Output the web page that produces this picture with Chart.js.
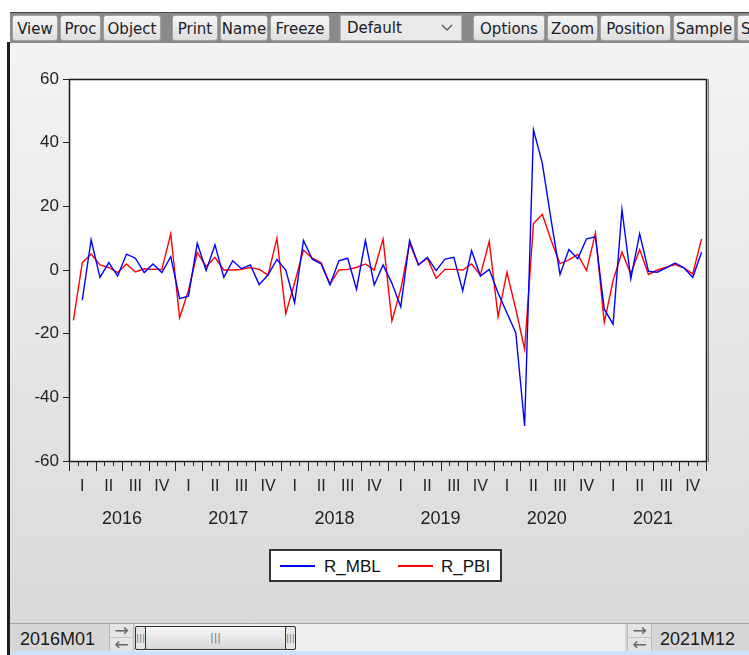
<!DOCTYPE html>
<html>
<head>
<meta charset="utf-8">
<title>R_MBL R_PBI</title>
<script src="https://cdn.jsdelivr.net/npm/chart.js@4.4.1/dist/chart.umd.min.js"></script>
<style>
    body { margin: 0; width: 749px; height: 655px; background: #fff; position: relative; overflow: hidden; font-family: "DejaVu Sans", sans-serif; }
    .abs { position: absolute; }
    #leftLine { left: 7px; top: 42px; width: 3px; height: 613px; background: #1e1e1e; }
    #toolbar { left: 10px; top: 12px; width: 739px; height: 30px; background: #8a8a8a; border-top: 1px solid #444; }
    .btn { position: absolute; top: 2px; height: 26px; line-height: 26px; text-align: center; font-size: 15px; color: #1c1c2a;
        background: linear-gradient(#f6f6f6, #dedede); border: 1px solid #a2a2a2; border-radius: 3px; box-sizing: border-box; white-space: nowrap; overflow: hidden; }
    #dropdown { position: absolute; top: 2px; left: 330px; width: 122px; height: 26px; box-sizing: border-box; background: #e9e9e9; border: 1px solid #b4b4b4;
        font-size: 15px; line-height: 24px; padding-left: 6px; color: #1c1c1c; }
    #dropdown svg { position: absolute; right: 8px; top: 8px; }
    #pane { left: 10px; top: 43px; width: 739px; height: 580px; background: linear-gradient(#f4f4f4, #d9d9d9); }
    #chart { position: absolute; left: 0; top: 0; }
    #legend { left: 269px; top: 549px; width: 233px; height: 33px; box-sizing: border-box; background: #fff; border: 2px solid #333;
        font: 17px "Liberation Sans", Arial, sans-serif; color: #111; }
    #legend .item { position: absolute; top: 6px; height: 20px; line-height: 20px; }
    #legend .swatch { position: absolute; top: 14px; width: 35px; height: 2px; }
    #bottom { left: 10px; top: 623px; width: 739px; height: 28px; background: #d6d6d6; border-top: 1px solid #a6a6a6;
        font: 18px "Liberation Sans", Arial, sans-serif; color: #1a1a1a; }
    #bottom .lbl { position: absolute; top: 3px; line-height: 24px; }
    .arrows { position: absolute; top: 0; width: 25px; height: 28px; background: #e4e4e4; border-left: 1px solid #bbb; border-right: 1px solid #bbb; box-sizing: border-box;
        font: 17px "DejaVu Sans", sans-serif; color: #666; text-align: center; line-height: 13px; }
    .arrows div { height: 13px; overflow: hidden; }
    .arrows div + div { border-top: 1px solid #c4c4c4; }
    #track { left: 125px; top: 0; width: 490px; height: 28px; background: #efefef; }
    #thumb { left: 0; top: 2px; width: 161px; height: 24px; box-sizing: border-box; background: linear-gradient(#f7f7f7, #d8d8d8); border: 1px solid #333; border-radius: 2px;
        font: 11px "DejaVu Sans", sans-serif; color: #777; text-align: center; line-height: 22px; }
    #thumb .cap { position: absolute; top: -1px; width: 11px; height: 24px; box-sizing: border-box; border: 1px solid #333; background: #e6e6e6; border-radius: 2px; font-size: 9px; line-height: 22px; }
    #blueLine { left: 10px; top: 651px; width: 739px; height: 4px; background: #cde2f6; }
</style>
</head>
<body>
<div id="leftLine" class="abs"></div>

<div id="toolbar" class="abs">
    <div class="btn" style="left:2px;width:46px">View</div>
    <div class="btn" style="left:50px;width:41px">Proc</div>
    <div class="btn" style="left:93px;width:58px">Object</div>
    <div class="btn" style="left:162px;width:46px">Print</div>
    <div class="btn" style="left:210px;width:48px">Name</div>
    <div class="btn" style="left:260px;width:60px">Freeze</div>
    <div id="dropdown">Default
        <svg width="12" height="8"><polyline points="1,1 6,6 11,1" fill="none" stroke="#555" stroke-width="1.3"/></svg>
    </div>
    <div class="btn" style="left:463px;width:72px">Options</div>
    <div class="btn" style="left:537px;width:51px">Zoom</div>
    <div class="btn" style="left:590px;width:71px">Position</div>
    <div class="btn" style="left:663px;width:62px">Sample</div>
    <div class="btn" style="left:727px;width:30px;text-align:left;padding-left:3px">Sheet</div>
</div>

<div id="pane" class="abs">
    <canvas id="chart" width="739" height="578"></canvas>
</div>

<div id="legend" class="abs">
    <div class="swatch" style="left:9px;background:#0000ff"></div>
    <div class="item" style="left:53px">R_MBL</div>
    <div class="swatch" style="left:127px;background:#ff0000"></div>
    <div class="item" style="left:170px">R_PBI</div>
</div>

<div id="bottom" class="abs">
    <div class="lbl" style="left:10px">2016M01</div>
    <div class="arrows" style="left:99px"><div>&#8594;</div><div>&#8592;</div></div>
    <div id="track" class="abs">
        <div id="thumb" class="abs">|||
            <div class="cap" style="left:-1px">|||</div>
            <div class="cap" style="right:-1px">|||</div>
        </div>
    </div>
    <div class="arrows" style="left:617px"><div>&#8594;</div><div>&#8592;</div></div>
    <div class="lbl" style="left:650px">2021M12</div>
</div>
<div id="blueLine" class="abs"></div>

<script>
    // sample 2016M01 - 2021M12
    var years = [2016, 2017, 2018, 2019, 2020, 2021];
    var quarterLabels = ["I", "II", "III", "IV"];
    var yTicks = [-60, -40, -20, 0, 20, 40, 60];

    var rMBL = [
        null, -9.5, 9.5, -2.3, 2.3, -1.9, 5.0, 3.7, -0.8, 1.9, -0.8, 4.2,
        -9.0, -8.2, 8.4, -0.2, 7.9, -2.3, 2.9, 0.4, 1.6, -4.6, -1.5, 3.3,
        0.0, -10.3, 9.3, 3.4, 1.9, -4.7, 2.9, 3.7, -6.1, 9.3, -4.7, 1.6,
        -4.2, -11.6, 9.3, 1.6, 4.0, -0.2, 3.4, 4.0, -6.5, 6.1, -1.9, 0.2,
        -7.2, -13.5, -19.7, -49.0, 44.0, 33.5, 15.6, -1.4, 6.4, 3.5, 9.8, 10.4,
        -12.3, -17.0, 19.0, -2.8, 11.4, -0.4, -0.7, 0.7, 2.2, 0.7, -2.3, 5.6
    ];
    var rPBI = [
        -15.8, 2.3, 5.0, 1.6, 0.8, -0.8, 1.9, -0.6, 0.4, 0.2, 0.2, 11.4,
        -15.0, -6.5, 5.5, 1.1, 4.0, 0.0, 0.0, 0.2, 0.8, 0.2, -1.6, 10.0,
        -13.7, -4.0, 6.3, 3.7, 2.3, -4.4, 0.0, 0.2, 0.8, 1.9, 0.0, 9.7,
        -16.0, -6.0, 8.4, 1.6, 3.7, -2.6, 0.2, 0.2, 0.0, 1.9, -1.6, 9.0,
        -14.7, -0.7, -12.3, -24.9, 14.6, 17.5, 9.3, 2.0, 3.2, 4.9, -0.2, 11.6,
        -16.5, -3.3, 5.6, -1.2, 6.4, -1.4, 0.0, 0.9, 1.7, 0.7, -1.2, 9.8
    ];

    var months = [];
    years.forEach(function (y) {
        for (var m = 1; m <= 12; m++) {
            months.push(y + "M" + (m < 10 ? "0" + m : m));
        }
    });

    var axisFont = '"Liberation Sans", Arial, sans-serif';

    // white plot box, month ticks, quarter and year labels like EViews
    var eviewsAxis = {
        id: "eviewsAxis",
        beforeDraw: function (chart) {
            var a = chart.chartArea;
            chart.ctx.save();
            chart.ctx.fillStyle = "#fff";
            chart.ctx.fillRect(a.left, a.top, a.right - a.left, a.bottom - a.top);
            chart.ctx.restore();
        },
        afterDraw: function (chart) {
            var ctx = chart.ctx;
            var a = chart.chartArea;
            var xs = chart.scales.x;
            var step = xs.getPixelForValue(1) - xs.getPixelForValue(0);
            var edge = function (i) { return xs.getPixelForValue(i) - step / 2; };

            ctx.save();
            ctx.strokeStyle = "#222";
            ctx.lineWidth = 1;
            ctx.beginPath();
            for (var i = 0; i <= months.length; i++) {
                var x = Math.round(edge(i)) + 0.5;
                ctx.moveTo(x, a.bottom);
                ctx.lineTo(x, a.bottom + (i % 3 === 0 ? 10 : 5));
            }
            ctx.stroke();

            // frame
            ctx.lineWidth = 1.5;
            ctx.strokeStyle = "#1a1a1a";
            ctx.strokeRect(Math.round(a.left) + 0.5, Math.round(a.top) + 0.5,
                Math.round(a.right - a.left), Math.round(a.bottom - a.top));
            ctx.strokeStyle = "#777";
            ctx.lineWidth = 1;
            ctx.beginPath();
            ctx.moveTo(Math.round(a.right) + 2.5, a.top);
            ctx.lineTo(Math.round(a.right) + 2.5, a.bottom + 1);
            ctx.stroke();

            ctx.fillStyle = "#222";
            ctx.textAlign = "center";
            ctx.textBaseline = "middle";
            ctx.font = "16px " + axisFont;
            for (var q = 0; q < months.length / 3; q++) {
                ctx.fillText(quarterLabels[q % 4], xs.getPixelForValue(q * 3 + 1), a.bottom + 26);
            }
            ctx.font = "18px " + axisFont;
            years.forEach(function (y, k) {
                ctx.fillText(String(y), xs.getPixelForValue(k * 12 + 5.5), a.bottom + 58);
            });
            ctx.restore();
        }
    };

    new Chart(document.getElementById("chart"), {
        type: "line",
        data: {
            labels: months,
            datasets: [
                { label: "R_MBL", data: rMBL, borderColor: "#0000ff", borderWidth: 1.4, pointRadius: 0, tension: 0 },
                { label: "R_PBI", data: rPBI, borderColor: "#ff0000", borderWidth: 1.4, pointRadius: 0, tension: 0 }
            ]
        },
        options: {
            responsive: false,
            animation: false,
            devicePixelRatio: 1,
            layout: { padding: { left: 0, top: 36, right: 43, bottom: 0 } },
            plugins: { legend: { display: false }, tooltip: { enabled: false } },
            scales: {
                x: {
                    type: "category",
                    offset: true,
                    grid: { display: false },
                    ticks: { display: false },
                    border: { display: false },
                    afterFit: function (scale) { scale.height = 160; }
                },
                y: {
                    min: -60,
                    max: 60,
                    afterBuildTicks: function (scale) {
                        scale.ticks = yTicks.map(function (v) { return { value: v }; });
                    },
                    ticks: { color: "#222", padding: 4, font: { family: axisFont, size: 17 } },
                    grid: { drawOnChartArea: false, tickLength: 6, color: "#222" },
                    border: { display: false },
                    afterFit: function (scale) { scale.width = 59; }
                }
            }
        },
        plugins: [eviewsAxis]
    });
</script>
</body>
</html>
